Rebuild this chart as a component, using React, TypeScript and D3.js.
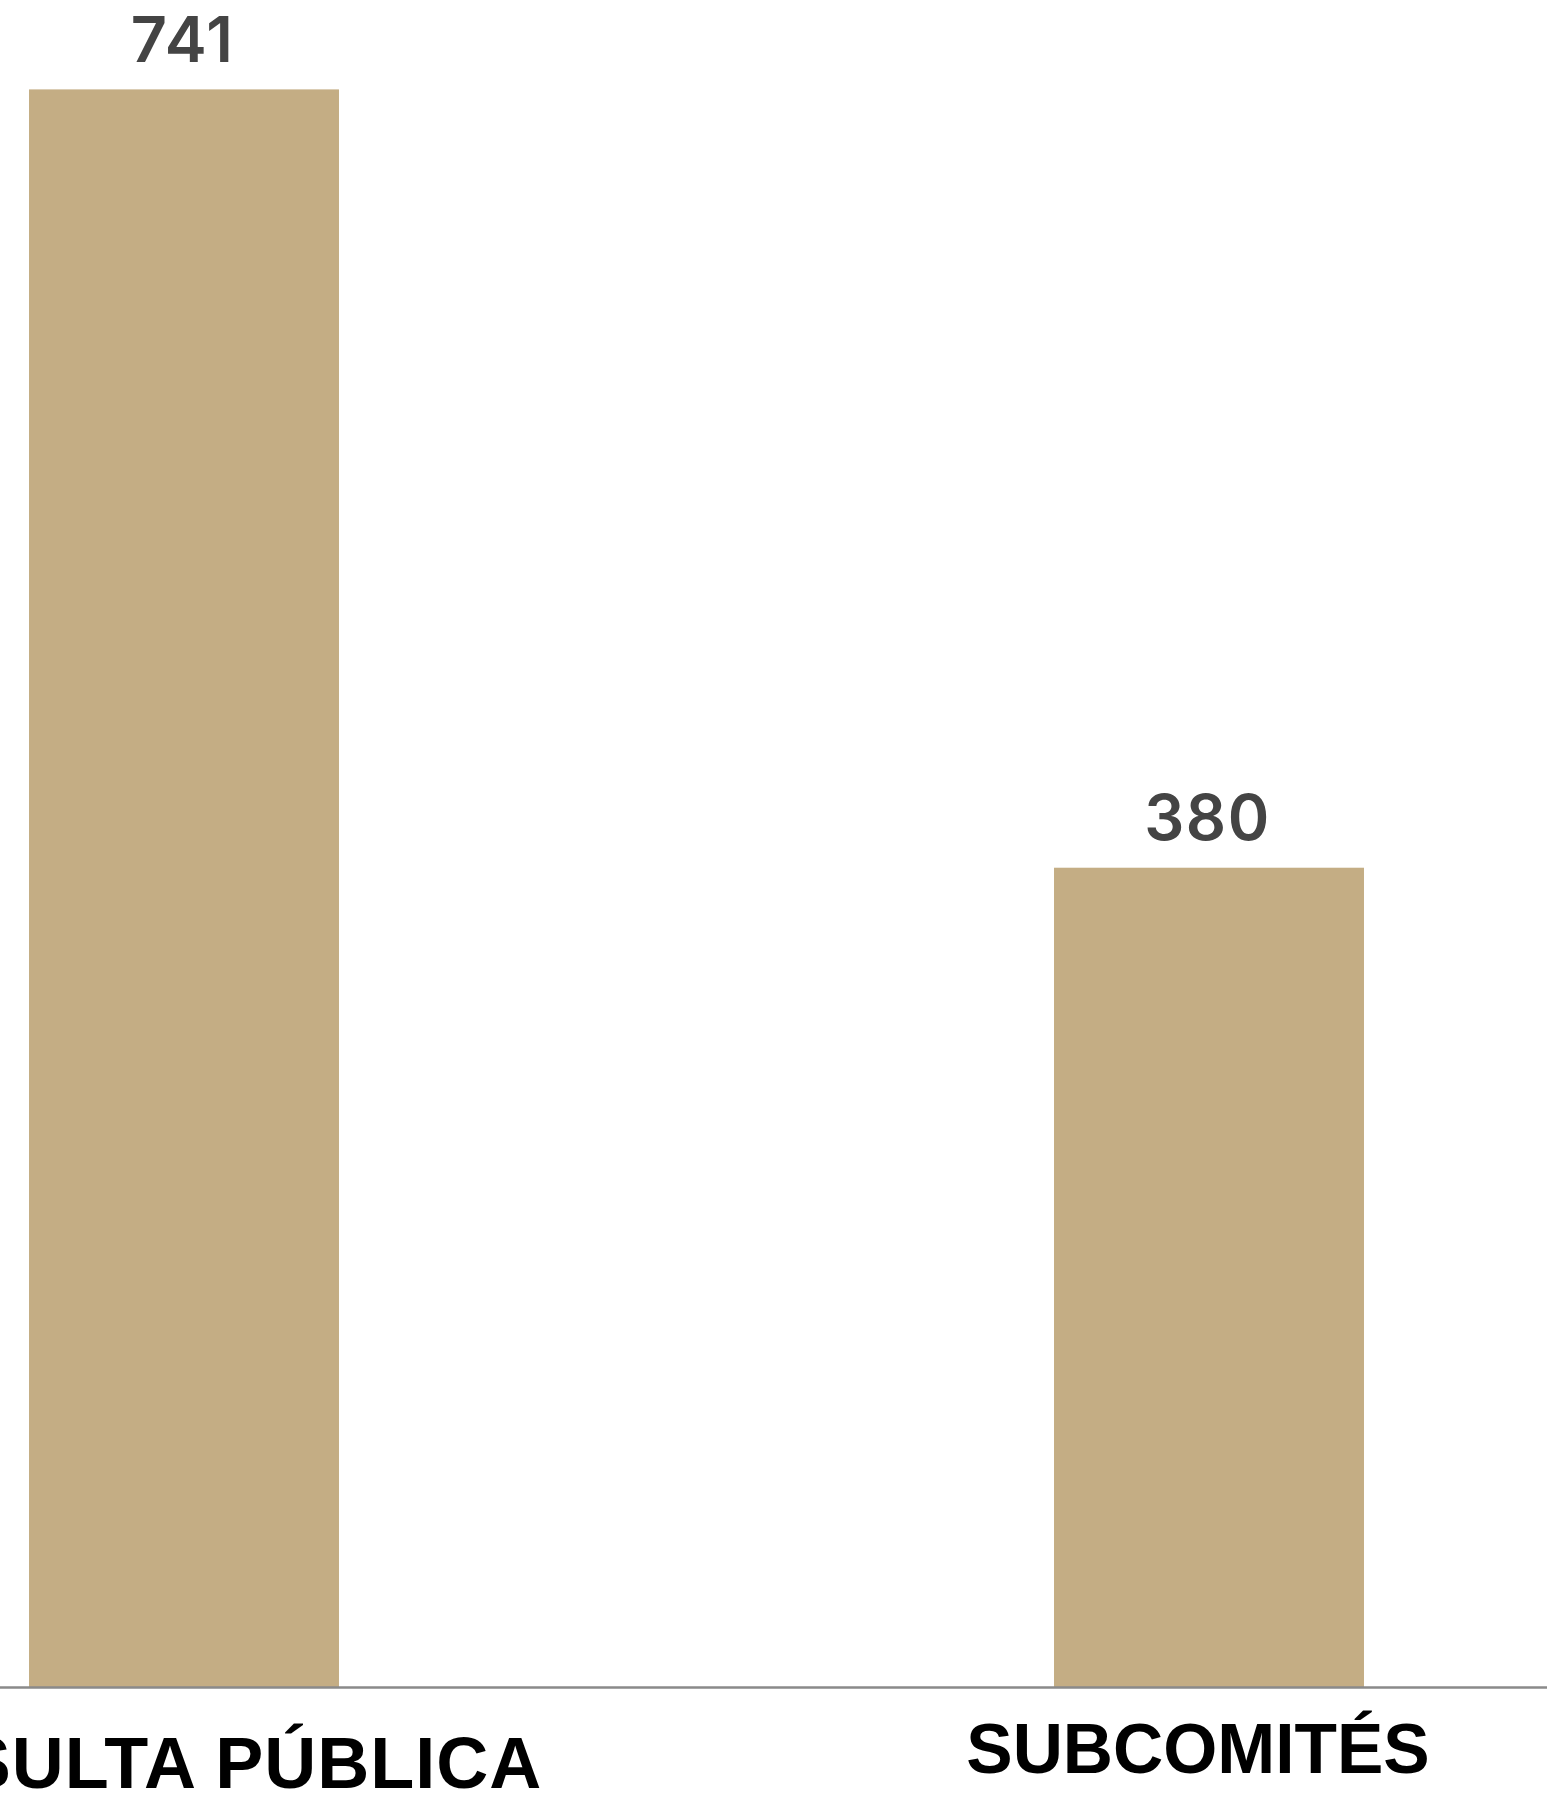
import React, { useEffect, useRef } from "react";
import * as d3 from "d3";

const categories: string[] = ["CONSULTA PÚBLICA", "SUBCOMITÉS"];
const values: number[] = [741, 380];

const W = 1547;
const H = 1798;

export default function App() {
  const ref = useRef<SVGSVGElement | null>(null);

  useEffect(() => {
    document.body.style.margin = "0";
    const svg = d3.select(ref.current);
    svg.selectAll("*").remove();

    const baseY = 1687;
    const x = d3
      .scaleBand<string>()
      .domain(categories)
      .range([-328.5, 1721.5])
      .paddingInner(0.6976)
      .paddingOuter(0.3488);
    const y = d3.scaleLinear().domain([0, 741]).range([baseY, 89.4]);

    const data = categories.map((c, i) => ({ c, v: values[i], i }));

    svg
      .selectAll("rect.bar")
      .data(data)
      .join("rect")
      .attr("class", "bar")
      .attr("x", (d) => x(d.c)!)
      .attr("width", x.bandwidth())
      .attr("y", (d) => y(d.v))
      .attr("height", (d) => baseY - y(d.v))
      .attr("fill", "#C4AD84");

    svg
      .append("line")
      .attr("x1", 0)
      .attr("x2", W)
      .attr("y1", baseY + 0.5)
      .attr("y2", baseY + 0.5)
      .attr("stroke", "#8a8a8a")
      .attr("stroke-width", 2.6);

    svg
      .selectAll("text.val")
      .data(data)
      .join("text")
      .attr("class", "val")
      .attr("x", (d) => x(d.c)! + x.bandwidth() / 2 - 1.5)
      .attr("y", (d) => y(d.v) - 27.5)
      .attr("text-anchor", "middle")
      .attr("font-family", "Inter, 'Open Sans', sans-serif")
      .attr("font-weight", 600)
      .attr("font-size", 63)
      .attr("letter-spacing", 1.5)
      .attr("fill", "#444444")
      .text((d) => String(d.v));

    const labelDrop = [101, 86];
    const labelShift = [-13, -11];
    const labelSize = [72, 69.5];
    const labelSpacing = [1, 0];
    svg
      .selectAll("text.cat")
      .data(data)
      .join("text")
      .attr("class", "cat")
      .attr("x", (d) => x(d.c)! + x.bandwidth() / 2 + labelShift[d.i])
      .attr("y", (d) => baseY + labelDrop[d.i])
      .attr("text-anchor", "middle")
      .attr("font-family", "'Liberation Sans', Arial, sans-serif")
      .attr("font-weight", "bold")
      .attr("font-size", (d) => labelSize[d.i])
      .attr("letter-spacing", (d) => labelSpacing[d.i])
      .attr("fill", "#000000")
      .text((d) => d.c);
  }, []);

  return (
    <svg
      ref={ref}
      width={W}
      height={H}
      style={{ position: "absolute", left: 0, top: 0, background: "#ffffff" }}
    />
  );
}
